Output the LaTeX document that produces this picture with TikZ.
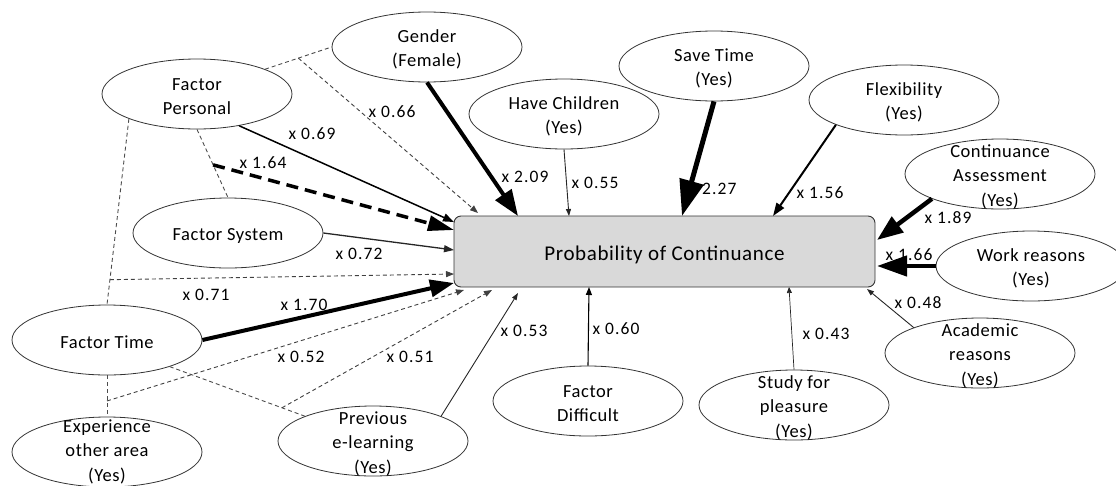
\documentclass[tikz,border=0pt]{standalone}
\usepackage{fontspec}
\setmainfont{Carlito}[LetterSpace=3]
\newfontfamily\lblfont{Carlito}[LetterSpace=6]
\usetikzlibrary{shapes.geometric,arrows.meta,calc}

\begin{document}
\begin{tikzpicture}[x=1pt,y=-1pt,
  oval/.style={ellipse, draw=black!80, line width=0.8pt, minimum width=190pt,
    minimum height=70pt, inner sep=0pt, fill=white},
  ovtext/.style={align=center, inner sep=0pt, yshift=-2.5pt,
    font=\fontsize{18.5}{24.5}\selectfont},
  mainbox/.style={rectangle, rounded corners=7pt, draw=black!80, line width=0.9pt,
    fill=black!15, minimum width=421pt, minimum height=71pt, inner sep=0pt,
    font=\fontsize{21}{24}\selectfont},
  lbl/.style={inner sep=0pt, font=\lblfont\fontsize{17.5}{20}\selectfont},
  link/.style={draw=black!70, line width=0.9pt, dash pattern=on 4pt off 3pt},
  dasharrow/.style={draw=black!75, line width=0.9pt, dash pattern=on 4pt off 3pt,
    -{Triangle[length=8pt,width=6pt]}},
  thin/.style={draw=black!85, line width=0.9pt, -{Triangle[length=7pt,width=5pt]}},
  mid/.style={draw=black, line width=#1, -{Triangle[length=11pt,width=8pt]}},
  heavy/.style={draw=black, line width=4.5pt, -{Triangle[length=26pt,width=19pt]}},
]
\useasboundingbox (0,0) rectangle (1116,485);

% the central outcome
\node[mainbox] (box) at (664.5,251.5)
  {\raisebox{-3pt}[\height][\depth]{Probability of Continuance}};

% predictor ovals
\node[oval] (fp)  at (197,94)  {};  \node[ovtext] (fpt)  at (fp)  {Factor\\Personal};
\node[oval] (gen) at (427,47)  {};  \node[ovtext] (gent) at (gen) {Gender\\(Female)};
\node[oval] (hc)  at (564,114) {};  \node[ovtext] (hct)  at (hc)  {Have Children\\(Yes)};
\node[oval] (st)  at (714,66)  {};  \node[ovtext] (stt)  at (st)  {Save Time\\(Yes)};
\node[oval] (fl)  at (904,100) {};  \node[ovtext] (flt)  at (fl)  {Flexibility\\(Yes)};
\node[oval] (ca)  at (1000,174){};  \node[ovtext] (cat)  at (ca)  {Continuance\\Assessment\\(Yes)};
\node[oval] (wr)  at (1031,266){};  \node[ovtext] (wrt)  at (wr)  {Work reasons\\(Yes)};
\node[oval] (ar)  at (980,353) {};  \node[ovtext] (art)  at (ar)  {Academic\\reasons\\(Yes)};
\node[oval] (sp)  at (794,405) {};  \node[ovtext] (spt)  at (sp)  {Study for\\pleasure\\(Yes)};
\node[oval] (fd)  at (588,401) {};  \node[ovtext] (fdt)  at (fd)  {Factor\\Difficult};
\node[oval] (pe)  at (373,441) {};  \node[ovtext] (pet)  at (pe)  {Previous\\e-learning\\(Yes)};
\node[oval] (ex)  at (107,452) {};  \node[ovtext, yshift=3pt] (ext) at (ex) {Experience\\other area\\(Yes)};
\node[oval] (ft)  at (107,340) {};  \node[ovtext] (ftt)  at (ft)  {Factor Time};
\node[oval] (fs)  at (228,233) {};  \node[ovtext] (fst)  at (fs)  {Factor System};

% dashed links between predictors
\draw[link] (fp.20)  -- (gen.west);
\draw[link] (fp.south) -- (fs.north);
\draw[link] (fp.200) -- (ft.north);
\draw[link] (ft.south) -- (ex.north);
\draw[link] (ft.337) -- (pe.160);

% branch points on the links
\coordinate (j066) at ($(fp.20)!0.5!(gen.west)$);
\coordinate (j164) at ($(fp.south)!0.52!(fs.north)$);
\coordinate (j071) at ($(fp.200)!0.866!(ft.north)$);
\coordinate (j052) at ($(ft.south)!0.62!(ex.north)$);
\coordinate (j051) at ($(ft.337)!0.83!(pe.160)$);

% arrow ends on the central box
\coordinate (t069) at (454,222);
\coordinate (t164) at (454,230);
\coordinate (t072) at (454,250);
\coordinate (t071) at (454,274);
\coordinate (t170) at (454,283);
\coordinate (t052) at (464,290);
\coordinate (t051) at (492,290);
\coordinate (t053) at (518,293);
\coordinate (t066) at (478,213);
\coordinate (t209) at (518,216);
\coordinate (t055) at (569,216);
\coordinate (t227) at (682,216);
\coordinate (t156) at (773,216);
\coordinate (t189) at (877,240);
\coordinate (t166) at (877,266);
\coordinate (t048) at (867,289);
\coordinate (t043) at (789,287);
\coordinate (t060) at (589,287);

% odds ratios
\node[lbl] (l069) at (312,134) {x 0.69};
\node[lbl] (l164) at (263,163) {x 1.64};
\node[lbl] (l066) at (392,112) {x 0.66};
\node[lbl] (l209) at (525,177) {x 2.09};
\node[lbl] (l055) at (595,183) {x 0.55};
\node[lbl] (l227) at (713,189) {x 2.27};
\node[lbl] (l156) at (820,193) {x 1.56};
\node[lbl] (l189) at (948,218) {x 1.89};
\node[lbl] (l166) at (909,255) {x 1.66};
\node[lbl] (l048) at (918,303) {x 0.48};
\node[lbl] (l043) at (826,334) {x 0.43};
\node[lbl] (l060) at (616,329) {x 0.60};
\node[lbl] (l053) at (524,331) {x 0.53};
\node[lbl] (l051) at (410,357) {x 0.51};
\node[lbl] (l052) at (301,357) {x 0.52};
\node[lbl] (l170) at (304,305) {x 1.70};
\node[lbl] (l071) at (206,295) {x 0.71};
\node[lbl] (l072) at (359,254) {x 0.72};

% effects on the outcome
\draw[mid=1.5pt] (fp.323) -- (t069);
\draw[draw=black, line width=3.5pt, dash pattern=on 12pt off 7pt,
  -{Triangle[length=26pt,width=15pt]}] (j164) -- (t164);
\draw[dasharrow] (j066) -- (t066);
\draw[heavy, line width=4pt] (gen.south) -- (t209);
\draw[thin] (hc.south) -- (t055);
\draw[draw=black, line width=5pt, -{Triangle[length=36pt,width=24pt]}] (st.south) -- (t227);
\draw[draw=black, line width=2pt, -{Triangle[length=13pt,width=9pt]}] (fl.200) -- (t156);
\draw[heavy] (ca.200) -- (t189);
\draw[heavy, -{Triangle[length=30pt,width=20pt]}] (wr.west) -- (t166);
\draw[thin] (ar.159) -- (t048);
\draw[thin, line width=0.7pt, -{Triangle[length=6pt,width=5pt]}] (sp.north) -- (t043);
\draw[draw=black, line width=1.1pt, -{Triangle[length=8pt,width=6pt]}] (fd.north) -- (t060);
\draw[thin] (pe.20) -- (t053);
\draw[dasharrow] (j051) -- (t051);
\draw[dasharrow] (j052) -- (t052);
\draw[heavy, line width=4pt, -{Triangle[length=24pt,width=17pt]}] (ft.east) -- (t170);
\draw[dasharrow] (j071) -- (t071);
\draw[draw=black!85, line width=1.3pt, -{Triangle[length=10pt,width=7pt]}] (fs.east) -- (t072);
\end{tikzpicture}
\end{document}
